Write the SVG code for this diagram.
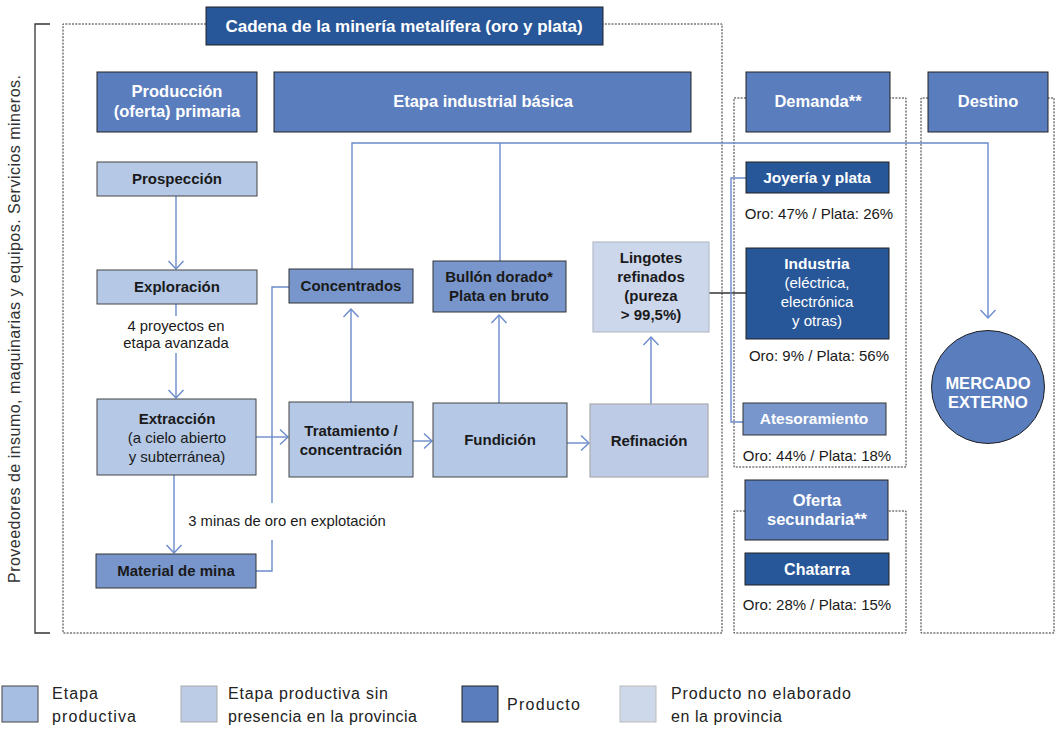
<svg xmlns="http://www.w3.org/2000/svg" width="1057" height="729" viewBox="0 0 1057 729">
<defs>
<marker id="arr" viewBox="-10 -9 12 18" markerWidth="12" markerHeight="18" refX="0" refY="0" orient="auto" markerUnits="userSpaceOnUse">
<path d="M-8,-7.5 L0,0 L-8,7.5" fill="none" stroke="#6A8BCC" stroke-width="1.4"/>
</marker>
</defs>
<style>
text{font-family:"Liberation Sans",Arial,sans-serif;}
.dot{fill:none;stroke:#333;stroke-width:1;stroke-dasharray:2 1.3;}
.hdr{fill:#5A7DBE;stroke:#222;stroke-width:1;}
.dk{fill:#285799;stroke:#222;stroke-width:1;}
.prd{fill:#7896CC;stroke:#333;stroke-width:1;}
.stg{fill:#B5C9E7;stroke:#444;stroke-width:1;}
.stg2{fill:#BDCBE6;stroke:#AAA;stroke-width:1.2;}
.ne{fill:#CDD7EC;stroke:#B5BCCB;stroke-width:1.2;}
.wt{fill:#fff;font-size:16.5px;font-weight:bold;text-anchor:middle;}
.wp{fill:#fff;font-size:15.5px;font-weight:bold;text-anchor:middle;}
.wn{fill:#fff;font-size:15px;text-anchor:middle;}
.bt{fill:#1a1a1a;font-size:15px;font-weight:bold;text-anchor:middle;}
.nt{fill:#1a1a1a;font-size:15px;text-anchor:middle;}
.sm{fill:#1a1a1a;font-size:14.8px;text-anchor:middle;}
.lg{fill:#222;font-size:16px;}
.con{fill:none;stroke:#6A8BCC;stroke-width:1.4;}
.arr{marker-end:url(#arr);}
</style>

<g id="frames">
<path class="dot" d="M206,24 H63 V633 H722 V24 H603"/>
<path class="dot" d="M746,98 H734 V467 H906 V98 H890"/>
<path class="dot" d="M928,98 H921 V633 H1054 V98 H1048"/>
<path class="dot" d="M745,511 H734 V633 H906 V511 H888"/>
<path d="M50,24 H35 V633 H50" fill="none" stroke="#333" stroke-width="1.3"/>
<text transform="translate(20,329) rotate(-90)" style="font-size:16px;fill:#333;text-anchor:middle;" textLength="508" lengthAdjust="spacing">Proveedores de insumo, maquinarias y equipos. Servicios mineros.</text>
</g>

<g id="title"><rect x="206" y="7" width="397" height="38" class="dk"/><text x="404" y="32" class="wt" style="font-size:17px">Cadena de la minería metalífera (oro y plata)</text></g>

<g id="h-produccion"><rect x="97" y="72" width="160" height="60" class="hdr"/><text x="177" y="97" class="wt">Producción</text><text x="177" y="117" class="wt">(oferta) primaria</text></g>
<g id="h-industrial"><rect x="274" y="72" width="417" height="60" class="hdr"/><text x="483" y="107" class="wt">Etapa industrial básica</text></g>
<g id="h-demanda"><rect x="746" y="72" width="144" height="60" class="hdr"/><text x="818" y="107" class="wt">Demanda**</text></g>
<g id="h-destino"><rect x="928" y="72" width="120" height="60" class="hdr"/><text x="988" y="107" class="wt">Destino</text></g>
<g id="h-oferta"><rect x="745" y="480" width="143" height="60" class="hdr"/><text x="817" y="506" class="wt">Oferta</text><text x="817" y="525" class="wt">secundaria**</text></g>

<g id="connectors">
<path class="con arr" d="M176,196 V269"/>
<path class="con" d="M176,304 V316"/>
<path class="con arr" d="M176,353 V398"/>
<path class="con arr" d="M256,437 H288"/>
<path class="con arr" d="M174,475 V553"/>
<path class="con" d="M256,571 H272 V540"/>
<path class="con" d="M272,503 V287 H289"/>
<path class="con arr" d="M351,402 V309"/>
<path class="con arr" d="M413,441 H432"/>
<path class="con arr" d="M499,403 V315"/>
<path class="con arr" d="M567,443 H589"/>
<path class="con arr" d="M651,404 V337"/>
<path class="con arr" d="M352,269 V143 H988 V318"/>
<path class="con" d="M500,261 V143"/>
<path d="M709,293 H746" fill="none" stroke="#333" stroke-width="1.3"/>
<path class="con" d="M746,178 H731 V422 H743"/>
</g>

<g id="prospeccion"><rect x="97" y="162" width="160" height="34" class="stg"/><text x="177" y="184" class="bt">Prospección</text></g>
<g id="exploracion"><rect x="97" y="270" width="160" height="34" class="stg"/><text x="177" y="292" class="bt">Exploración</text></g>
<g id="nota-4"><text x="176" y="331" class="sm">4 proyectos en</text><text x="176" y="348" class="sm">etapa avanzada</text></g>
<g id="extraccion"><rect x="97" y="399" width="159" height="76" class="stg"/><text x="177" y="424" class="bt">Extracción</text><text x="177" y="443" class="nt">(a cielo abierto</text><text x="177" y="462" class="nt">y subterránea)</text></g>
<g id="nota-3"><text x="287" y="526" class="sm">3 minas de oro en explotación</text></g>
<g id="material"><rect x="96" y="554" width="160" height="34" class="prd"/><text x="176" y="576" class="bt">Material de mina</text></g>
<g id="concentrados"><rect x="289" y="269" width="124" height="34" class="prd"/><text x="351" y="291" class="bt">Concentrados</text></g>
<g id="tratamiento"><rect x="289" y="402" width="124" height="75" class="stg"/><text x="351" y="436" class="bt">Tratamiento /</text><text x="351" y="455" class="bt">concentración</text></g>
<g id="bullon"><rect x="433" y="261" width="133" height="51" class="prd"/><text x="499" y="282" class="bt">Bullón dorado*</text><text x="499" y="301" class="bt">Plata en bruto</text></g>
<g id="fundicion"><rect x="433" y="403" width="134" height="74" class="stg"/><text x="500" y="445" class="bt">Fundición</text></g>
<g id="lingotes"><rect x="593" y="242" width="116" height="90" class="ne"/><text x="651" y="263" class="bt">Lingotes</text><text x="651" y="282" class="bt">refinados</text><text x="651" y="301" class="bt">(pureza</text><text x="651" y="320" class="bt">&gt; 99,5%)</text></g>
<g id="refinacion"><rect x="590" y="404" width="118" height="73" class="stg2"/><text x="649" y="446" class="bt">Refinación</text></g>

<g id="joyeria"><rect x="746" y="162" width="143" height="31" class="dk"/><text x="817" y="183" class="wp">Joyería y plata</text><text x="819" y="219" class="nt">Oro: 47% / Plata: 26%</text></g>
<g id="industria"><rect x="746" y="248" width="143" height="91" class="dk"/><text x="817" y="269" class="wp">Industria</text><text x="817" y="288" class="wn">(eléctrica,</text><text x="817" y="307" class="wn">electrónica</text><text x="817" y="326" class="wn">y otras)</text><text x="819" y="361" class="nt">Oro: 9% / Plata: 56%</text></g>
<g id="atesoramiento"><rect x="743" y="403" width="143" height="32" class="prd"/><text x="814" y="424" class="wp">Atesoramiento</text><text x="817" y="461" class="nt">Oro: 44% / Plata: 18%</text></g>
<g id="chatarra"><rect x="745" y="553" width="144" height="32" class="dk"/><text x="817" y="575" class="wp" style="font-size:16px">Chatarra</text><text x="817" y="610" class="nt">Oro: 28% / Plata: 15%</text></g>

<g id="mercado"><circle cx="988" cy="387" r="56.5" class="hdr"/><text x="988" y="389" class="wt">MERCADO</text><text x="988" y="408" class="wt">EXTERNO</text></g>

<g id="legend">
<rect x="2" y="686" width="36" height="36" fill="#A7BEE3" stroke="#444"/><text x="52" y="699" class="lg" textLength="46">Etapa</text><text x="52" y="722" class="lg" textLength="84">productiva</text>
<rect x="181" y="686" width="36" height="36" fill="#BCCBE6" stroke="#AAA"/><text x="228" y="699" class="lg" textLength="160">Etapa productiva sin</text><text x="228" y="722" class="lg" textLength="189">presencia en la provincia</text>
<rect x="462" y="686" width="36" height="36" fill="#5A7DBE" stroke="#222"/><text x="507" y="710" class="lg" textLength="73">Producto</text>
<rect x="620" y="686" width="36" height="36" fill="#CED8EB" stroke="#BBB"/><text x="671" y="699" class="lg" textLength="180">Producto no elaborado</text><text x="671" y="722" class="lg" textLength="111">en la provincia</text>
</g>
</svg>
